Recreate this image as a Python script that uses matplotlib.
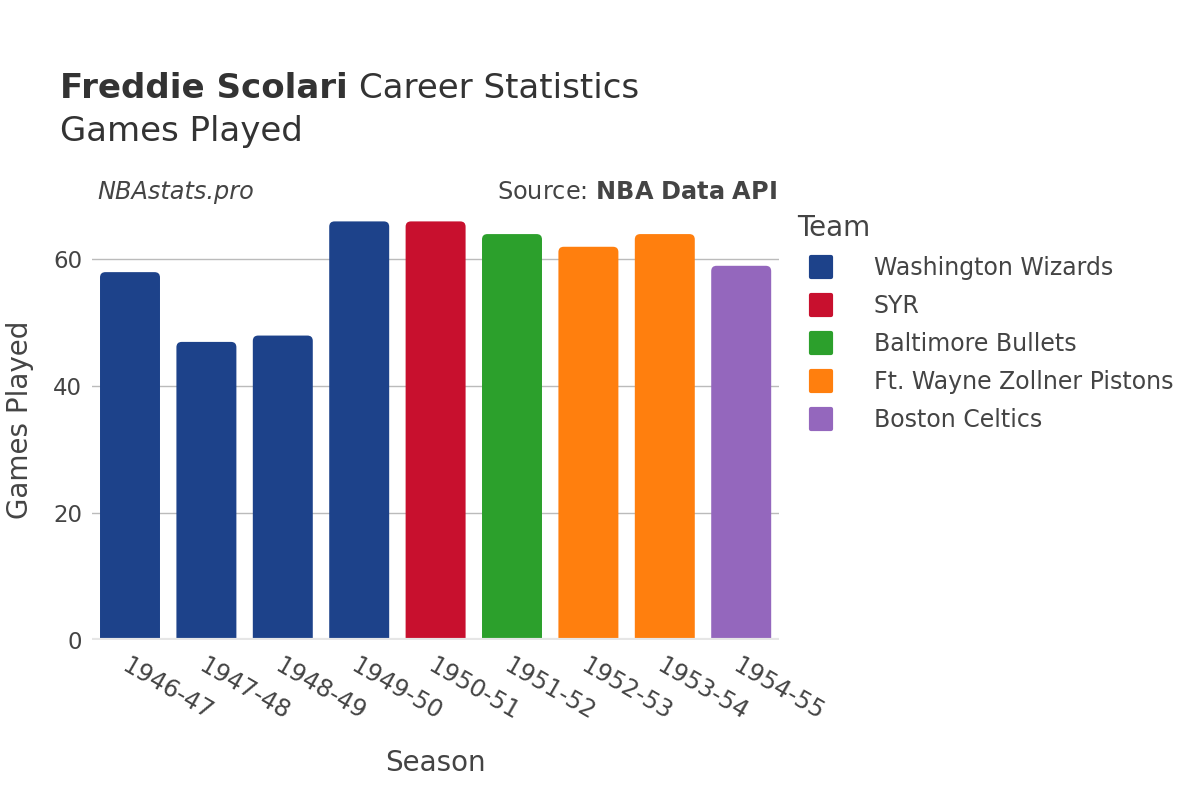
import matplotlib
matplotlib.use("Agg")
import matplotlib.pyplot as plt
from matplotlib.patches import FancyBboxPatch
from matplotlib.lines import Line2D
from matplotlib.markers import MarkerStyle

plt.rcParams['font.family'] = ['DejaVu Sans']

seasons = ["1946-47", "1947-48", "1948-49", "1949-50", "1950-51",
           "1951-52", "1952-53", "1953-54", "1954-55"]
games = [58, 47, 48, 66, 66, 64, 62, 64, 59]
teams = ["Washington Wizards", "Washington Wizards", "Washington Wizards",
         "Washington Wizards", "SYR", "Baltimore Bullets",
         "Ft. Wayne Zollner Pistons", "Ft. Wayne Zollner Pistons", "Boston Celtics"]
team_order = ["Washington Wizards", "SYR", "Baltimore Bullets",
              "Ft. Wayne Zollner Pistons", "Boston Celtics"]
team_colors = {"Washington Wizards": "#1d428a", "SYR": "#c8102e",
               "Baltimore Bullets": "#2ca02c", "Ft. Wayne Zollner Pistons": "#ff7f0e",
               "Boston Celtics": "#9467bd"}

txt = "#444444"
fig = plt.figure(figsize=(12, 8), dpi=100)
ax = fig.add_axes([0.0765, 0.2, 0.573, 0.551])

ymax = 69.5
ax.set_ylim(0, ymax)
ax.set_xlim(-0.5, len(seasons) - 0.5)

bars = ax.bar(range(len(seasons)), games, width=0.785,
              color=[team_colors[t] for t in teams])
# swap plain bars for rounded-top ones
rx = 0.07
ry = rx * 12
for b in bars:
    x, w, h = b.get_x(), b.get_width(), b.get_height()
    p = FancyBboxPatch((x, -ry), w, h + ry,
                       boxstyle=f"round,pad=0,rounding_size={rx}",
                       mutation_aspect=12, facecolor=b.get_facecolor(),
                       edgecolor="none", zorder=3)
    ax.add_patch(p)
    b.remove()

for s in ax.spines.values():
    s.set_visible(False)
ax.set_yticks([0, 20, 40, 60])
ax.yaxis.grid(True, color="#bbbbbb", linewidth=1)
ax.axhline(0, color="#e6e6e6", linewidth=3, zorder=4)
ax.set_axisbelow(True)
ax.tick_params(axis="both", length=0, labelcolor=txt)
ax.tick_params(axis="y", pad=7, labelsize=16.5)
ax.set_xticks(range(len(seasons)))
ax.set_xticklabels(seasons, rotation=-30, ha="left", va="top",
                   rotation_mode="anchor", fontsize=17.3)
ax.tick_params(axis="x", pad=10)

ax.set_xlabel("Season", fontsize=20, color=txt, labelpad=17)
ax.set_ylabel("Games Played", fontsize=20, color=txt, labelpad=14)

t1 = fig.text(0.05, 0.889, "Freddie Scolari", fontsize=24.5, fontweight="bold",
              color="#333333", va="center")
fig.canvas.draw()
bb = t1.get_window_extent().transformed(fig.transFigure.inverted())
fig.text(bb.x1 + 0.009, 0.889, "Career Statistics", fontsize=24.5,
         color="#333333", va="center")
fig.text(0.05, 0.835, "Games Played", fontsize=24.5, color="#333333", va="center")
fig.text(0.081, 0.76, "NBAstats.pro", fontsize=17.3, style="italic",
         color=txt, va="center")
fig.text(0.6475, 0.76, "Source: $\\bf{NBA\\ Data\\ API}$", fontsize=17.3,
         color=txt, va="center", ha="right")

mk = MarkerStyle("s", joinstyle="round")
handles = [Line2D([], [], marker=mk, linestyle="none", markersize=14,
                  markeredgewidth=3,
                  markerfacecolor=team_colors[t], markeredgecolor=team_colors[t])
           for t in team_order]
leg = fig.legend(handles, team_order, loc="upper left",
                 bbox_to_anchor=(0.6567, 0.744), frameon=False,
                 title="Team", fontsize=17, title_fontsize=20,
                 labelspacing=0.59, handletextpad=1.23, borderaxespad=0)
leg._legend_box.align = "left"
for t in leg.get_texts():
    t.set_color(txt)
leg.get_title().set_color(txt)

fig.savefig("out.png", dpi=100)
